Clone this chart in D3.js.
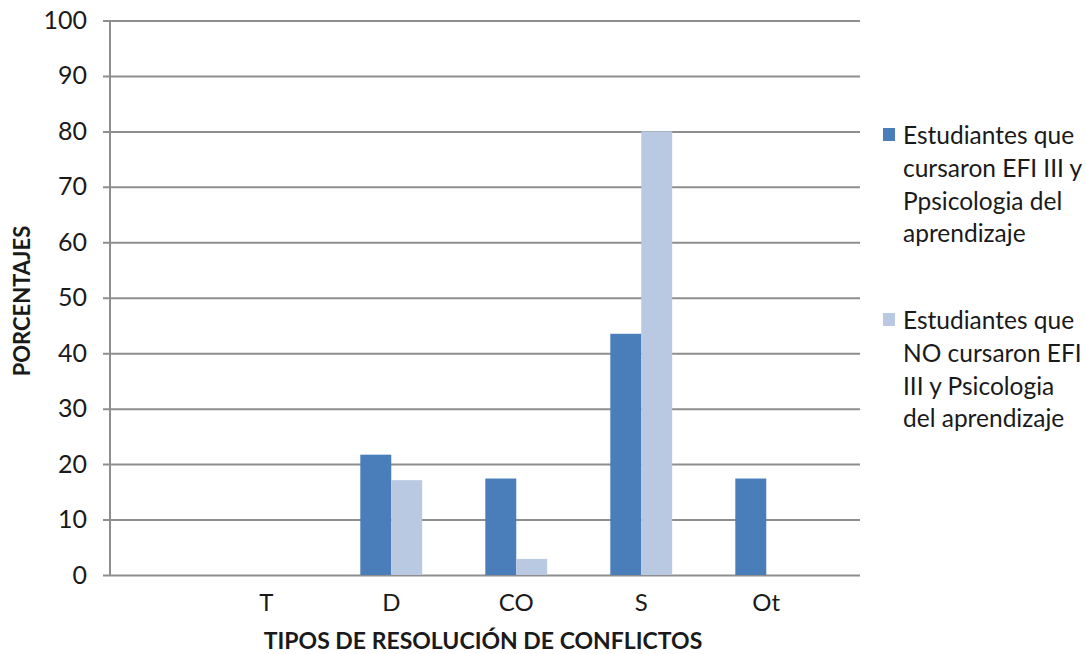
<!DOCTYPE html>
<html>
<head>
<meta charset="utf-8">
<script src="https://cdn.jsdelivr.net/npm/d3@7/dist/d3.min.js"></script>
<style>
  html, body { margin: 0; padding: 0; background: #fff; }
  svg { display: block; }
  text { font-family: Lato, "Open Sans", sans-serif; fill: #1a1a1a; }
</style>
</head>
<body>
<svg id="chart" width="1086" height="654"></svg>
<script>
// Conflict-resolution types and the percentage of students in each group
const categories = ["T", "D", "CO", "S", "Ot"];
const seriesNames = [
  ["Estudiantes que", "cursaron EFI III y", "Ppsicologia del", "aprendizaje"],
  ["Estudiantes que", "NO cursaron EFI", "III y Psicologia", "del aprendizaje"]
];
const cursaron = [0, 21.7, 17.4, 43.5, 17.4];
const noCursaron = [0, 17.1, 2.9, 80, 0];
const yTicks = [0, 10, 20, 30, 40, 50, 60, 70, 80, 90, 100];
const colors = ["#4a7ebb", "#b9c9e1"];

const svg = d3.select("#chart");
const plotLeft = 110, plotRight = 860, plotTop = 20.5, plotBottom = 575;

const x = d3.scaleBand()
  .domain(categories)
  .range([plotLeft, plotRight])
  .paddingInner(0)
  .paddingOuter(0.5)
  .align(0.75);

const xInner = d3.scaleBand()
  .domain([0, 1])
  .range([0, x.bandwidth()])
  .paddingOuter(1.02);

const y = d3.scaleLinear().domain([0, 100]).range([plotBottom, plotTop]);

// horizontal gridlines with short ticks to the left of the axis
const yAxis = d3.axisLeft(y)
  .tickValues(yTicks)
  .tickSize(-(plotRight - plotLeft))
  .tickSizeOuter(0)
  .tickPadding(23);

const gy = svg.append("g")
  .attr("transform", `translate(${plotLeft},0)`)
  .call(yAxis);
gy.select(".domain").remove();
gy.selectAll(".tick line")
  .attr("x1", -7)
  .attr("stroke", "#8e8e8e")
  .attr("stroke-width", 2);
gy.selectAll(".tick text")
  .style("font-size", "25px")
  .attr("fill", "#1a1a1a");

// vertical axis line
svg.append("line")
  .attr("x1", plotLeft).attr("x2", plotLeft)
  .attr("y1", plotTop).attr("y2", plotBottom)
  .attr("stroke", "#8e8e8e")
  .attr("stroke-width", 2);

// bars
const rows = categories.map((c, i) => ({ cat: c, vals: [cursaron[i], noCursaron[i]] }));
const groups = svg.append("g").selectAll("g")
  .data(rows)
  .join("g")
  .attr("transform", d => `translate(${x(d.cat)},0)`);

groups.selectAll("rect")
  .data(d => d.vals.map((v, k) => ({ k, v })))
  .join("rect")
  .attr("x", d => xInner(d.k))
  .attr("width", xInner.bandwidth())
  .attr("y", d => y(d.v))
  .attr("height", d => y(0) - y(d.v))
  .attr("fill", d => colors[d.k]);

// category labels
const xAxis = d3.axisBottom(x).tickSize(0).tickPadding(19);
const gx = svg.append("g")
  .attr("transform", `translate(0,${plotBottom})`)
  .call(xAxis);
gx.select(".domain").remove();
gx.selectAll(".tick text")
  .style("font-size", "24px")
  .attr("fill", "#1a1a1a");

// axis titles
svg.append("text")
  .attr("x", 483)
  .attr("y", 649)
  .attr("text-anchor", "middle")
  .style("font-size", "23px")
  .style("font-weight", "bold")
  .text("TIPOS DE RESOLUCIÓN DE CONFLICTOS");

svg.append("text")
  .attr("transform", "translate(30,301) rotate(-90)")
  .attr("text-anchor", "middle")
  .style("font-size", "22px")
  .style("font-weight", "bold")
  .text("PORCENTAJES");

// legend
const legendTops = [128, 313];
seriesNames.forEach((lines, k) => {
  const g = svg.append("g").attr("transform", `translate(883,${legendTops[k]})`);
  g.append("rect")
    .attr("width", 12).attr("height", 13)
    .attr("fill", colors[k]);
  g.append("text")
    .attr("x", 20)
    .attr("y", 16)
    .style("font-size", "24.5px")
    .selectAll("tspan")
    .data(lines)
    .join("tspan")
    .attr("x", 20)
    .attr("dy", (d, i) => i === 0 ? 0 : 32.8)
    .text(d => d);
});
</script>
</body>
</html>
